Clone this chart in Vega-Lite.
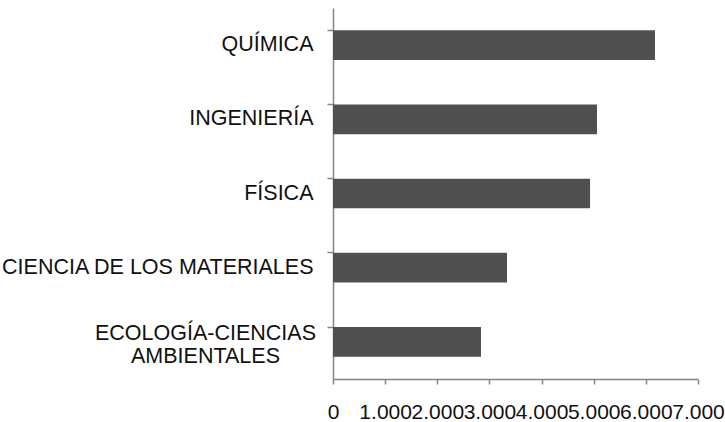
{
  "$schema": "https://vega.github.io/schema/vega-lite/v6.json",
  "autosize": "none",
  "width": 365,
  "height": 371,
  "padding": {"left": 333, "top": 8, "right": 27, "bottom": 43},
  "background": "white",
  "data": {
    "values": [
      {"area": "QUÍMICA", "valor": 6175},
      {"area": "INGENIERÍA", "valor": 5063},
      {"area": "FÍSICA", "valor": 4930},
      {"area": "CIENCIA DE LOS MATERIALES", "valor": 3337},
      {"area": "ECOLOGÍA-CIENCIAS AMBIENTALES", "valor": 2838}
    ]
  },
  "mark": {"type": "bar", "color": "#505050"},
  "encoding": {
    "y": {
      "field": "area",
      "type": "nominal",
      "sort": null,
      "scale": {"paddingInner": 0.6, "paddingOuter": 0.3},
      "axis": {
        "title": null,
        "bandPosition": 0,
        "domainColor": "#858585",
        "domainWidth": 1.5,
        "tickColor": "#858585",
        "tickWidth": 1.5,
        "tickSize": 6,
        "labelPadding": {"condition": {"test": "datum.value == 'ECOLOGÍA-CIENCIAS AMBIENTALES'", "value": 122}, "value": 14},
        "labelOffset": {"condition": {"test": "datum.value == 'ECOLOGÍA-CIENCIAS AMBIENTALES'", "value": -8}, "value": 0},
        "labelFont": "Liberation Sans",
        "labelFontSize": 21.5,
        "labelColor": "#111111",
        "labelLimit": 400,
        "labelLineHeight": 23,
        "labelExpr": "datum.label == 'ECOLOGÍA-CIENCIAS AMBIENTALES' ? ['ECOLOGÍA-CIENCIAS', 'AMBIENTALES'] : datum.label",
        "labelAlign": {"condition": {"test": "datum.value == 'ECOLOGÍA-CIENCIAS AMBIENTALES'", "value": "center"}, "value": "right"}
      }
    },
    "x": {
      "field": "valor",
      "type": "quantitative",
      "scale": {"domain": [0, 7000], "nice": false},
      "axis": {
        "title": null,
        "grid": false,
        "values": [0, 1000, 2000, 3000, 4000, 5000, 6000, 7000],
        "labelExpr": "datum.value == 0 ? '0' : replace(format(datum.value, ',.0f'), ',', '.')",
        "domainColor": "#858585",
        "domainWidth": 1.5,
        "tickColor": "#858585",
        "tickWidth": 1.5,
        "tickSize": 5,
        "labelPadding": 17,
        "labelFont": "Liberation Sans",
        "labelFontSize": 21,
        "labelColor": "#111111",
        "labelOverlap": false,
        "labelFlush": false
      }
    }
  },
  "config": {"view": {"stroke": null}}
}
